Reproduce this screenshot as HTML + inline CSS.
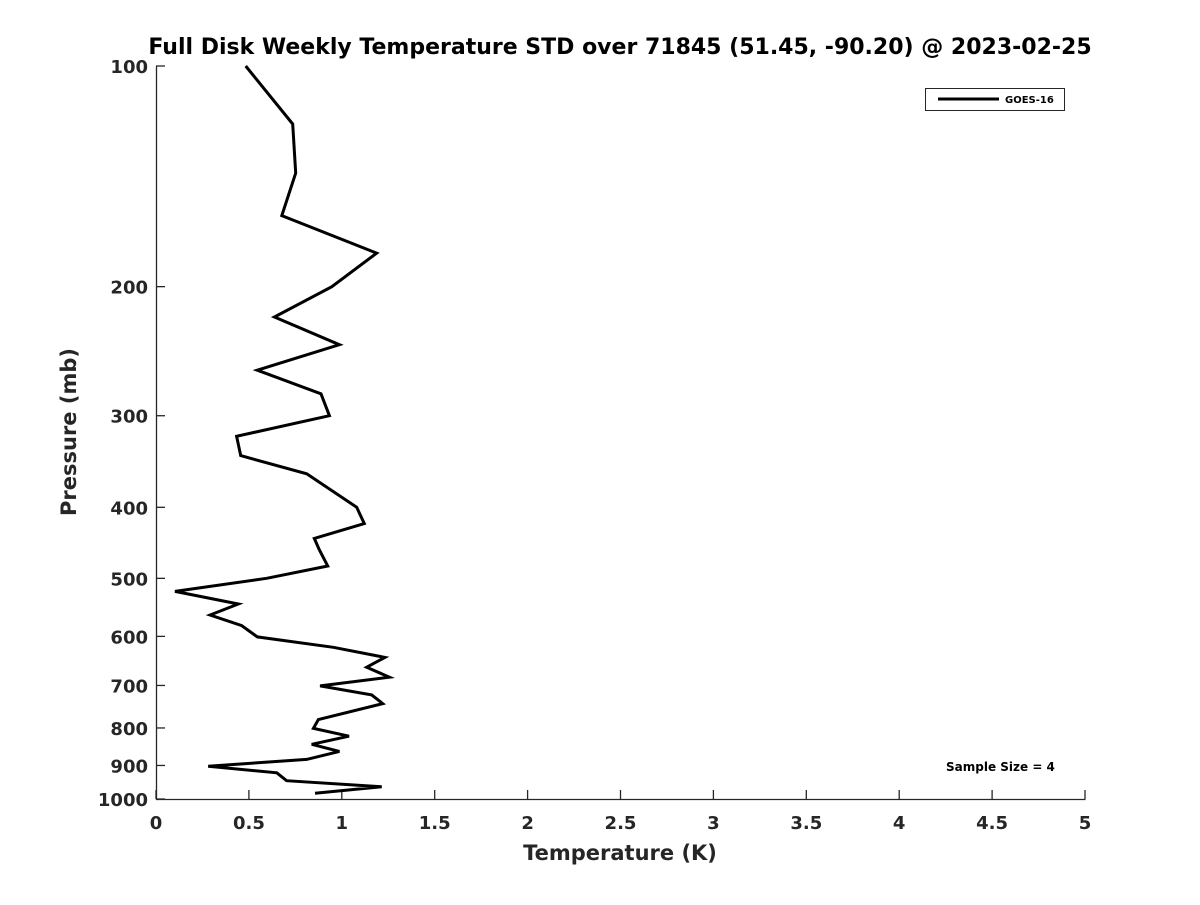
<!DOCTYPE html>
<html><head><meta charset="utf-8"><style>
body{margin:0;background:#fff}
svg text{font-family:"DejaVu Sans","Liberation Sans",sans-serif;font-weight:bold;fill:#262626}
</style></head><body>
<svg id="chart" width="1200" height="900" viewBox="0 0 1200 900" xmlns="http://www.w3.org/2000/svg">
<rect width="1200" height="900" fill="#fff"/>
<text x="620" y="54" text-anchor="middle" font-size="22" style="fill:#000">Full Disk Weekly Temperature STD over 71845 (51.45, -90.20) @ 2023-02-25</text>
<g id="axes"></g>
<path id="series" fill="none" stroke="#000" stroke-width="3" stroke-linejoin="miter"/>
<g>
<rect x="925.5" y="88.5" width="139" height="22" fill="#fff" stroke="#262626" stroke-width="1"/>
<line x1="938" y1="99" x2="999" y2="99" stroke="#000" stroke-width="3"/>
<text x="1005" y="103" font-size="10" style="fill:#000">GOES-16</text>
</g>
<text x="946" y="771" font-size="12" style="fill:#000">Sample Size = 4</text>
<text x="620" y="860" text-anchor="middle" font-size="21">Temperature (K)</text>
<text transform="translate(76,432) rotate(-90)" text-anchor="middle" font-size="21">Pressure (mb)</text>
</svg>
<script>
const temps=[0.483,0.736,0.752,0.677,1.188,0.946,0.637,0.987,0.545,0.888,0.933,0.434,0.456,0.811,1.080,1.121,0.852,0.879,0.924,0.596,0.102,0.443,0.291,0.461,0.545,0.954,1.232,1.134,1.256,0.883,1.161,1.220,0.874,0.847,1.039,0.838,0.987,0.811,0.281,0.650,0.703,1.215,0.856];
const pressures=[100,120,140,160,180,200,220,240,260,280,300,320,340,360,400,421,441,457,481,500,521,542,561,580,601,621,641,661,682,701,721,741,779,801,821,842,861,883,902,921,944,962,982];
const xTicks=[0,0.5,1,1.5,2,2.5,3,3.5,4,4.5,5];
const xTickLabels=["0","0.5","1","1.5","2","2.5","3","3.5","4","4.5","5"];
const yTicks=[100,200,300,400,500,600,700,800,900,1000];
const yTickLabels=["100","200","300","400","500","600","700","800","900","1000"];
const X0=156,X1=1085,Y0=66,Y1=799;
function xs(v){return X0+(v-0)/(5-0)*(X1-X0);}
function ys(p){return Y0+(Math.log10(p)-2)/1*(Y1-Y0);}
const NS="http://www.w3.org/2000/svg";
const ax=document.getElementById('axes');
function mk(t,a){const e=document.createElementNS(NS,t);for(const k in a)e.setAttribute(k,a[k]);ax.appendChild(e);return e;}
let l=mk('line',{x1:X0,y1:Y1+.5,x2:X1+.5,y2:Y1+.5,stroke:'#262626','stroke-width':1.3});


l=mk('line',{x1:X0+.5,y1:Y0,x2:X0+.5,y2:Y1+.5,stroke:'#262626','stroke-width':1.3});


xTicks.forEach((v,i)=>{
 const x=xs(v);
 const t=mk('line',{x1:x,y1:Y1,x2:x,y2:Y1-9,stroke:'#262626','stroke-width':1.3});
 
 
 const tx=mk('text',{x:x,y:Y1+30,'text-anchor':'middle','font-size':18});
 tx.textContent=xTickLabels[i];
 
 
});
yTicks.forEach((p,i)=>{
 const y=ys(p);
 const t=mk('line',{x1:X0,y1:y,x2:X0+9,y2:y,stroke:'#262626','stroke-width':1.3});
 
 
 const tx=mk('text',{x:X0-8,y:y+7,'text-anchor':'end','font-size':18});
 tx.textContent=yTickLabels[i];
 
 
});
document.getElementById('series').setAttribute('d',temps.map((t,i)=>(i?'L':'M')+xs(t).toFixed(1)+','+ys(pressures[i]).toFixed(1)).join(''));
</script>
</body></html>
